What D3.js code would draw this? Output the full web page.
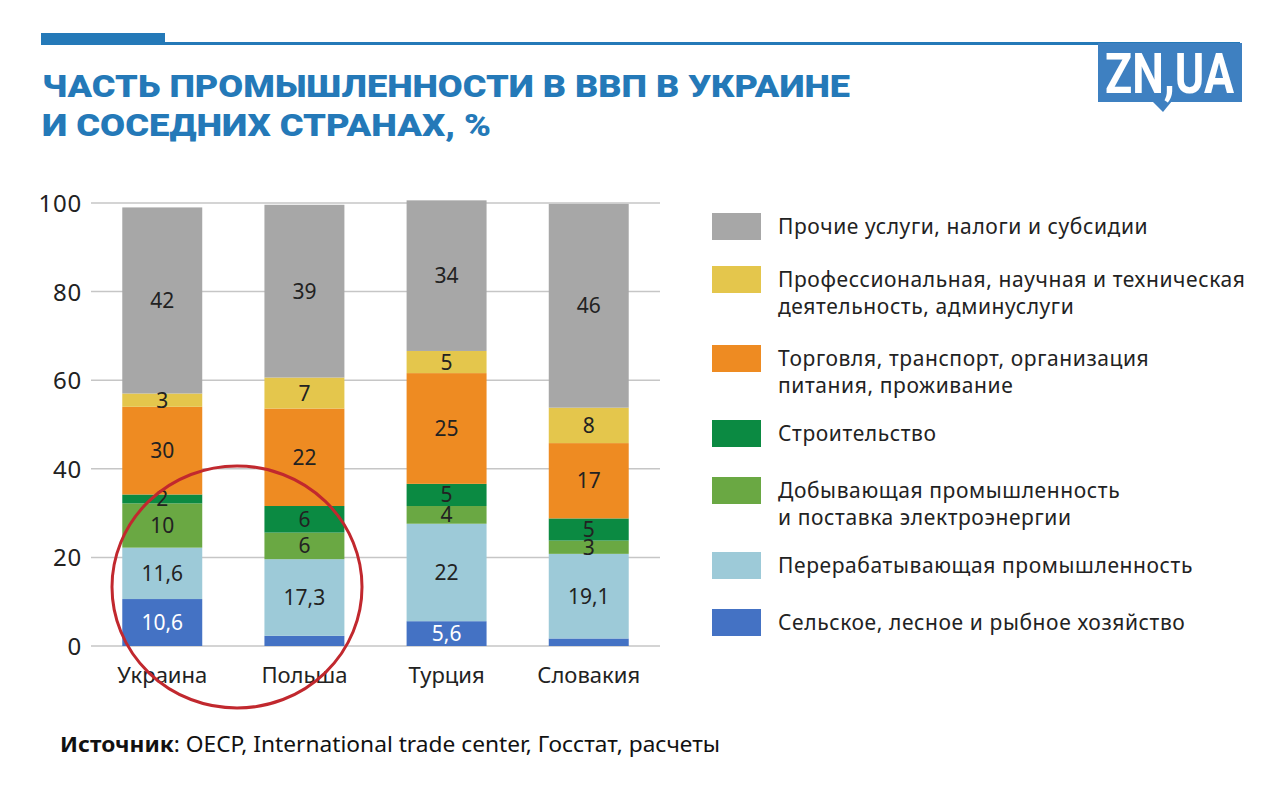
<!DOCTYPE html>
<html><head><meta charset="utf-8">
<script src="https://cdn.jsdelivr.net/npm/d3@7"></script>
<style>
html,body{margin:0;padding:0;background:#fff;}
svg{display:block;}
</style></head>
<body>
<svg id="c" width="1280" height="793"></svg>
<script>
// ---- data ----
const countries = ["Украина", "Польша", "Турция", "Словакия"];
const seriesNames = [
  "Сельское, лесное и рыбное хозяйство",
  "Перерабатывающая промышленность",
  "Добывающая промышленность\nи поставка электроэнергии",
  "Строительство",
  "Торговля, транспорт, организация\nпитания, проживание",
  "Профессиональная, научная и техническая\nдеятельность, админуслуги",
  "Прочие услуги, налоги и субсидии"
];
const seriesColors = ["#4472c4", "#9dcad8", "#6aa843", "#0b8a42", "#ee8b22", "#e4c64c", "#a7a7a7"];
// drawn segment heights (as pictured)
const agriculture   = [10.6, 2.3, 5.6, 1.7];
const manufacturing = [11.6, 17.3, 22, 19.1];
const mining        = [10, 6, 4, 3];
const construction  = [2, 6, 5, 5];
const trade         = [19.8, 22, 25, 17];
const professional  = [3, 7, 5, 8];
const other         = [42, 39, 34, 46];
// printed labels
const agricultureLabels   = ["10,6", "", "5,6", ""];
const manufacturingLabels = ["11,6", "17,3", "22", "19,1"];
const miningLabels        = ["10", "6", "4", "3"];
const constructionLabels  = ["2", "6", "5", "5"];
const tradeLabels         = ["30", "22", "25", "17"];
const professionalLabels  = ["3", "7", "5", "8"];
const otherLabels         = ["42", "39", "34", "46"];
const yTicks = [0, 20, 40, 60, 80, 100];

const series = [agriculture, manufacturing, mining, construction, trade, professional, other];
const labels = [agricultureLabels, manufacturingLabels, miningLabels, constructionLabels, tradeLabels, professionalLabels, otherLabels];
const keys = ["agr", "man", "min", "con", "tra", "pro", "oth"];

const table = countries.map((c, i) => {
  const row = {country: c};
  keys.forEach((k, j) => row[k] = series[j][i]);
  return row;
});
const stacked = d3.stack().keys(keys)(table);

const svg = d3.select("#c");
const FONT = "'Noto Sans', 'Open Sans', sans-serif";
const blue = "#2479b8";

// header bar
svg.append("rect").attr("x", 41).attr("y", 33).attr("width", 124).attr("height", 12).attr("fill", blue);
svg.append("rect").attr("x", 165).attr("y", 42).attr("width", 1075).attr("height", 3).attr("fill", blue);

// title
svg.append("text").attr("x", 42).attr("y", 97)
  .attr("font-family", "Roboto, 'Open Sans', sans-serif").attr("font-weight", 900)
  .attr("font-size", 31).attr("fill", blue)
  .attr("textLength", 808).attr("lengthAdjust", "spacingAndGlyphs")
  .text("ЧАСТЬ ПРОМЫШЛЕННОСТИ В ВВП В УКРАИНЕ");
svg.append("text").attr("x", 42).attr("y", 136)
  .attr("font-family", "Roboto, 'Open Sans', sans-serif").attr("font-weight", 900)
  .attr("font-size", 31).attr("fill", blue)
  .attr("textLength", 449).attr("lengthAdjust", "spacingAndGlyphs")
  .text("И СОСЕДНИХ СТРАНАХ, %");

// logo
const logoBlue = "#3e80c1";
svg.append("rect").attr("x", 1098).attr("y", 43).attr("width", 144).attr("height", 59).attr("fill", logoBlue);
svg.append("path").attr("d", "M1152,101 L1163,112 L1172,101 Z").attr("fill", logoBlue);
svg.append("text").attr("x", 1105).attr("y", 93)
  .attr("font-family", "'Liberation Sans Narrow', 'Roboto', sans-serif").attr("font-weight", 700)
  .attr("font-size", 56).attr("fill", "#fff")
  .attr("textLength", 129).attr("lengthAdjust", "spacingAndGlyphs")
  .text("ZN,UA");

// scales
const x = d3.scaleBand().domain(countries).range([91, 660]).paddingInner(0.4375).paddingOuter(0.22);
const y = d3.scaleLinear().domain([0, 100]).range([646, 203]);

// grid
svg.append("g").selectAll("line").data(yTicks).join("line")
  .attr("x1", 91).attr("x2", 660)
  .attr("y1", d => y(d)).attr("y2", d => y(d))
  .attr("stroke", "#c6c6c6").attr("stroke-width", 1.5);

// y axis labels
const yAxis = d3.axisLeft(y).tickValues(yTicks).tickSize(0).tickPadding(0);
const gy = svg.append("g").attr("transform", "translate(82,0)").call(yAxis);
gy.select(".domain").remove();
gy.selectAll("text").attr("font-family", FONT).attr("font-size", 24).attr("letter-spacing", 0.8)
  .attr("fill", "#222").attr("dy", "0.35em");

// bars
const layers = svg.append("g").selectAll("g").data(stacked).join("g")
  .attr("fill", (d, i) => seriesColors[i]);
layers.selectAll("rect").data(d => d).join("rect")
  .attr("x", d => x(d.data.country))
  .attr("width", x.bandwidth())
  .attr("y", d => y(d[1]))
  .attr("height", d => y(d[0]) - y(d[1]));

// value labels
stacked.forEach((layer, j) => {
  svg.append("g").selectAll("text").data(layer).join("text")
    .attr("x", d => x(d.data.country) + x.bandwidth() / 2)
    .attr("y", d => (y(d[0]) + y(d[1])) / 2)
    .attr("dy", "0.36em")
    .attr("text-anchor", "middle")
    .attr("font-family", FONT).attr("font-size", 21)
    .attr("fill", j === 0 ? "#fff" : "#222")
    .text((d, i) => labels[j][i]);
});

// x axis labels
const xAxis = d3.axisBottom(x).tickSize(0).tickPadding(0);
const gx = svg.append("g").attr("transform", "translate(0,664)").call(xAxis);
gx.select(".domain").remove();
gx.selectAll("text").attr("font-family", FONT).attr("font-size", 22).attr("fill", "#222").attr("dy", "0.85em");

// annotation circle
svg.append("ellipse").attr("cx", 237).attr("cy", 587).attr("rx", 125).attr("ry", 121)
  .attr("fill", "none").attr("stroke", "#c1282e").attr("stroke-width", 3);

// legend
const legendOrder = [6, 5, 4, 3, 2, 1, 0];
const legendTops = [213, 266, 345, 420, 477, 552, 609];
const lg = svg.append("g");
legendOrder.forEach((si, k) => {
  const top = legendTops[k];
  lg.append("rect").attr("x", 712).attr("y", top).attr("width", 49).attr("height", 27).attr("fill", seriesColors[si]);
  const lines = seriesNames[si].split("\n");
  const tx = lg.append("text").attr("font-family", FONT).attr("font-size", 21)
    .attr("letter-spacing", 0.6).attr("fill", "#222");
  lines.forEach((ln, li) => {
    tx.append("tspan").attr("x", 778).attr("y", top + 21 + li * 27).text(ln);
  });
});

// source
const src = svg.append("text").attr("x", 60).attr("y", 752)
  .attr("font-family", FONT).attr("font-size", 21).attr("fill", "#111")
  .attr("textLength", 660).attr("lengthAdjust", "spacingAndGlyphs");
src.append("tspan").attr("font-weight", 700).text("Источник");
src.append("tspan").text(": OECP, International trade center, Госстат, расчеты");
</script>
</body></html>
